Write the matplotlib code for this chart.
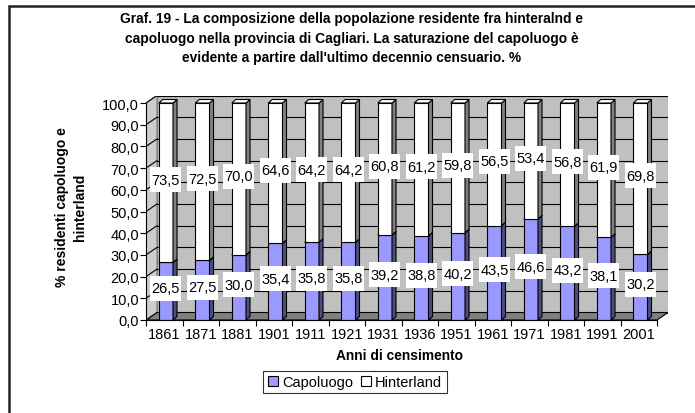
#Graf. 19 - composizione popolazione residente, provincia di Cagliari
import numpy as np
import matplotlib.pyplot as plt
from matplotlib.patches import Rectangle, Polygon, Patch

#Dati
anni = ['1861', '1871', '1881', '1901', '1911', '1921', '1931', '1936',
        '1951', '1961', '1971', '1981', '1991', '2001']
capoluogo = [26.5, 27.5, 30.0, 35.4, 35.8, 35.8, 39.2, 38.8, 40.2, 43.5, 46.6, 43.2, 38.1, 30.2]
hinterland = [73.5, 72.5, 70.0, 64.6, 64.2, 64.2, 60.8, 61.2, 59.8, 56.5, 53.4, 56.8, 61.9, 69.8]

plt.rcParams['font.family'] = ['Liberation Sans', 'DejaVu Sans']

W, H = 695, 414
fig = plt.figure(figsize=(W / 100, H / 100), dpi=100)

#geometria in pixel (asse frontale)
x0_px, x1_px = 146, 657
y0_px, y100_px = 321, 104
dpx, dpy = 11, 7.5
n = len(anni)
cat_px = (x1_px - x0_px) / n
val_px = (y0_px - y100_px) / 100.0
ddx = dpx / cat_px
ddy = dpy / val_px

ax = fig.add_axes([x0_px / W, 1 - y0_px / H,
                   (x1_px - x0_px + dpx) / W, (y0_px - y100_px + dpy) / H])
ax.set_xlim(0, n + ddx)
ax.set_ylim(0, 100 + ddy)
ax.patch.set_visible(False)

#pareti
ax.add_patch(Rectangle((ddx, ddy), n, 100, facecolor='#C0C0C0', edgecolor='#808080', lw=0.8, zorder=0))
ax.add_patch(Polygon([(0, 0), (n, 0), (n + ddx, ddy), (ddx, ddy)], closed=True,
                     facecolor='#808080', edgecolor='black', lw=0.8, zorder=1))
ax.add_patch(Polygon([(0, 0), (ddx, ddy), (ddx, 100 + ddy), (0, 100)], closed=True,
                     facecolor='#CCCCCC', edgecolor='#808080', lw=0.8, zorder=1))
for v in range(10, 101, 10):
    ax.plot([ddx, n + ddx], [v + ddy, v + ddy], color='black', lw=0.8, zorder=1.5)
for v in range(0, 101, 10):
    ax.plot([0, ddx], [v, v + ddy], color='black', lw=0.8, zorder=1.5)

#barre 3D
bw = 0.39
boff = 0.35
bdx = 4 / cat_px
bdy = 3.5 / val_px

def barra(x, y0, y1, front, side, top):
    ax.add_patch(Rectangle((x, y0), bw, y1 - y0, facecolor=front, edgecolor='black', lw=0.8, zorder=3))
    ax.add_patch(Polygon([(x + bw, y0), (x + bw + bdx, y0 + bdy), (x + bw + bdx, y1 + bdy), (x + bw, y1)],
                         closed=True, facecolor=side, edgecolor='black', lw=0.8, zorder=3))
    ax.add_patch(Polygon([(x, y1), (x + bdx, y1 + bdy), (x + bw + bdx, y1 + bdy), (x + bw, y1)],
                         closed=True, facecolor=top, edgecolor='black', lw=0.8, zorder=3))

lw_box = 31 / cat_px
lh_box = 25 / val_px
def etichetta(xc, yc, v):
    ax.add_patch(Rectangle((xc - lw_box / 2, yc - lh_box / 2), lw_box, lh_box,
                           facecolor='white', edgecolor='none', zorder=4))
    ax.text(xc, yc, f"{v:.1f}".replace('.', ','), ha='center', va='center', fontsize=10.5, zorder=5)

for i in range(n):
    x = i + boff
    c = capoluogo[i]
    h = hinterland[i]
    barra(x, 0, c, '#9999FF', '#4D4D80', '#7A7ACC')
    barra(x, c, c + h, 'white', '#808080', 'white')
for i in range(n):
    xc = i + boff + bw / 2
    c = capoluogo[i]
    h = hinterland[i]
    etichetta(xc, c / 2 + 1.3, c)
    etichetta(xc, c + h / 2 + 1.3, h)

#assi
for s in ['top', 'right']:
    ax.spines[s].set_visible(False)
ax.spines['left'].set_bounds(0, 100)
ax.spines['bottom'].set_bounds(0, n)
ax.spines['left'].set_zorder(6)
ax.spines['bottom'].set_zorder(6)
ax.set_yticks(np.arange(0, 101, 10))
ax.set_yticklabels([f"{v:.1f}".replace('.', ',') for v in range(0, 101, 10)], fontsize=10.5)
ax.set_xticks(np.arange(0, n + 1))
ax.set_xticklabels([])
ax.set_xticks(np.arange(n) + 0.5, minor=True)
ax.set_xticklabels(anni, minor=True, fontsize=10.5)
ax.tick_params(axis='x', which='minor', length=0, pad=5)
ax.tick_params(axis='both', which='major', direction='out', length=4, width=0.8)
ax.tick_params(axis='y', pad=1)

#testi
fig.text(352 / W, 1 - 12 / H,
         "Graf. 19 - La composizione della popolazione residente fra hinteralnd e\n"
         "capoluogo nella provincia di Cagliari. La saturazione del capoluogo è\n"
         "evidente a partire dall'ultimo decennio censuario. %",
         ha='center', va='top', fontsize=9.9, fontweight='bold', linespacing=1.5)
fig.text(71 / W, 1 - 207 / H, "% residenti capoluogo e\nhinterland", rotation=90,
         ha='center', va='center', multialignment='center', fontsize=10, fontweight='bold',
         linespacing=1.45)
fig.text(400 / W, 1 - 356 / H, "Anni di censimento", ha='center', va='center',
         fontsize=9.9, fontweight='bold')

#legenda
handles = [Patch(facecolor='#9999FF', edgecolor='black', lw=0.8, label='Capoluogo'),
           Patch(facecolor='white', edgecolor='black', lw=0.8, label='Hinterland')]
leg = fig.legend(handles=handles, loc='center', bbox_to_anchor=(355 / W, 1 - 383 / H), ncol=2,
                 fontsize=10.5, frameon=True, fancybox=False, handlelength=0.7, handleheight=0.7,
                 handletextpad=0.3, columnspacing=0.5, borderpad=0.3, borderaxespad=0)
leg.get_frame().set_edgecolor('black')
leg.get_frame().set_linewidth(0.8)

#cornice
fig.add_artist(Rectangle((9 / W, -0.1), 1.2, 1.1 - 7 / H, transform=fig.transFigure,
                         facecolor='none', edgecolor='#222222', lw=1.8))

fig.savefig('out.png', dpi=100)
